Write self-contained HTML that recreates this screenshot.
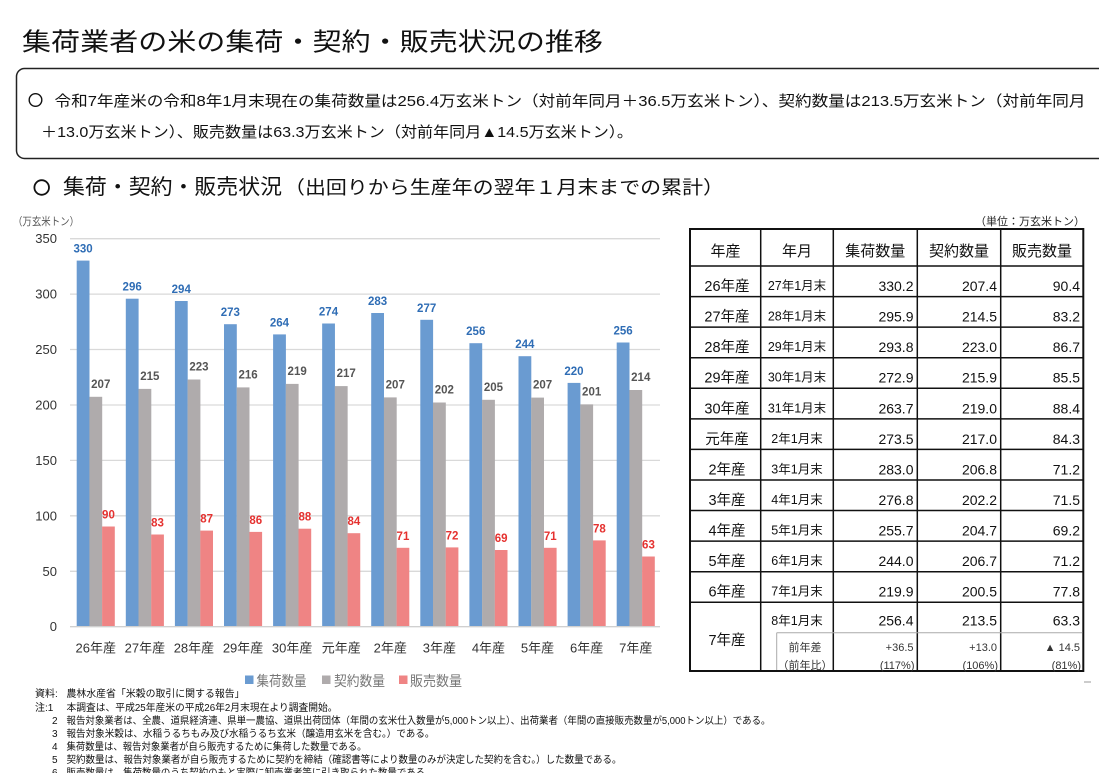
<!DOCTYPE html>
<html><head><meta charset="utf-8"><style>
html,body{margin:0;padding:0;background:#fff;}
svg{display:block;}
text{font-family:"Liberation Sans","Noto Sans CJK JP",sans-serif;}
</style></head><body>
<svg width="1099" height="773" viewBox="0 0 1099 773" xmlns="http://www.w3.org/2000/svg">
<rect width="1099" height="773" fill="#fff"/>
<!-- Title -->
<text x="22" y="50.5" font-size="25" fill="#111" textLength="581" lengthAdjust="spacingAndGlyphs">集荷業者の米の集荷・契約・販売状況の推移</text>
<!-- Summary box -->
<rect x="16.5" y="68.5" width="1100" height="90" rx="8" fill="none" stroke="#222" stroke-width="1.5"/>
<circle cx="35.5" cy="100" r="6.3" fill="none" stroke="#111" stroke-width="1.4"/>
<text x="54.5" y="106" font-size="15" fill="#111" textLength="1031" lengthAdjust="spacingAndGlyphs">令和7年産米の令和8年1月末現在の集荷数量は256.4万玄米トン（対前年同月＋36.5万玄米トン）、契約数量は213.5万玄米トン（対前年同月</text>
<text x="41" y="137" font-size="15" fill="#111" textLength="592" lengthAdjust="spacingAndGlyphs">＋13.0万玄米トン）、販売数量は63.3万玄米トン（対前年同月▲14.5万玄米トン）。</text>
<!-- Section header -->
<circle cx="41.7" cy="187.5" r="7.3" fill="none" stroke="#111" stroke-width="1.8"/>
<text x="63" y="194" font-size="21" fill="#111" textLength="219" lengthAdjust="spacingAndGlyphs">集荷・契約・販売状況</text>
<text x="284" y="194" font-size="18.5" fill="#111" textLength="440" lengthAdjust="spacingAndGlyphs">（出回りから生産年の翌年１月末までの累計）</text>
<!-- units -->
<text x="13" y="225" font-size="11" fill="#555" textLength="66" lengthAdjust="spacingAndGlyphs">（万玄米トン）</text>
<text x="975" y="225" font-size="11" fill="#222" textLength="110" lengthAdjust="spacingAndGlyphs">（単位：万玄米トン）</text>

<!-- Gridlines -->
<g stroke="#d9d9d9" stroke-width="1.3">
<line x1="70" y1="238.7" x2="660" y2="238.7"/>
<line x1="70" y1="294.1" x2="660" y2="294.1"/>
<line x1="70" y1="349.5" x2="660" y2="349.5"/>
<line x1="70" y1="405.0" x2="660" y2="405.0"/>
<line x1="70" y1="460.4" x2="660" y2="460.4"/>
<line x1="70" y1="515.8" x2="660" y2="515.8"/>
<line x1="70" y1="571.3" x2="660" y2="571.3"/>
</g>
<!-- Y labels -->
<g font-size="13" fill="#333" text-anchor="end">
<text x="57" y="243.2">350</text>
<text x="57" y="298.6">300</text>
<text x="57" y="354">250</text>
<text x="57" y="409.5">200</text>
<text x="57" y="464.9">150</text>
<text x="57" y="520.3">100</text>
<text x="57" y="575.8">50</text>
<text x="57" y="631.2">0</text>
</g>
<!-- Blue bars -->
<g fill="#6a9bd1">
<rect x="76.7" y="260.6" width="12.8" height="366.1"/>
<rect x="125.8" y="298.7" width="12.8" height="328.0"/>
<rect x="174.9" y="301.0" width="12.8" height="325.7"/>
<rect x="224.0" y="324.2" width="12.8" height="302.5"/>
<rect x="273.1" y="334.4" width="12.8" height="292.3"/>
<rect x="322.15" y="323.5" width="12.8" height="303.2"/>
<rect x="371.2" y="313.0" width="12.8" height="313.7"/>
<rect x="420.3" y="319.8" width="12.8" height="306.9"/>
<rect x="469.4" y="343.2" width="12.8" height="283.5"/>
<rect x="518.5" y="356.2" width="12.8" height="270.5"/>
<rect x="567.6" y="382.9" width="12.8" height="243.8"/>
<rect x="616.7" y="342.5" width="12.8" height="284.2"/>
</g>
<!-- Gray bars -->
<g fill="#afabac">
<rect x="89.4" y="396.8" width="12.8" height="229.9"/>
<rect x="138.5" y="388.9" width="12.8" height="237.8"/>
<rect x="187.6" y="379.5" width="12.8" height="247.2"/>
<rect x="236.7" y="387.4" width="12.8" height="239.3"/>
<rect x="285.8" y="383.9" width="12.8" height="242.8"/>
<rect x="334.85" y="386.1" width="12.8" height="240.6"/>
<rect x="383.9" y="397.4" width="12.8" height="229.3"/>
<rect x="433.0" y="402.5" width="12.8" height="224.2"/>
<rect x="482.1" y="399.8" width="12.8" height="226.9"/>
<rect x="531.2" y="397.6" width="12.8" height="229.1"/>
<rect x="580.3" y="404.4" width="12.8" height="222.3"/>
<rect x="629.4" y="390.0" width="12.8" height="236.7"/>
</g>
<!-- Red bars -->
<g fill="#ef8484">
<rect x="102.1" y="526.5" width="12.7" height="100.2"/>
<rect x="151.2" y="534.5" width="12.7" height="92.2"/>
<rect x="200.3" y="530.6" width="12.7" height="96.1"/>
<rect x="249.4" y="531.9" width="12.7" height="94.8"/>
<rect x="298.5" y="528.7" width="12.7" height="98.0"/>
<rect x="347.55" y="533.2" width="12.7" height="93.5"/>
<rect x="396.6" y="547.8" width="12.7" height="78.9"/>
<rect x="445.7" y="547.4" width="12.7" height="79.3"/>
<rect x="494.8" y="550.0" width="12.7" height="76.7"/>
<rect x="543.9" y="547.8" width="12.7" height="78.9"/>
<rect x="593.0" y="540.4" width="12.7" height="86.3"/>
<rect x="642.1" y="556.5" width="12.7" height="70.2"/>
</g>
<line x1="70" y1="626.7" x2="660" y2="626.7" stroke="#d0d0d0" stroke-width="1.3"/>
<!-- Data labels -->
<g font-size="11.5" font-weight="bold" text-anchor="middle">
<g fill="#2f6db5">
<text x="83.05" y="252.6">330</text>
<text x="132.15" y="290.7">296</text>
<text x="181.25" y="293.0">294</text>
<text x="230.35" y="316.2">273</text>
<text x="279.45" y="326.4">264</text>
<text x="328.5" y="315.5">274</text>
<text x="377.55" y="305.0">283</text>
<text x="426.65" y="311.8">277</text>
<text x="475.75" y="335.2">256</text>
<text x="524.85" y="348.2">244</text>
<text x="573.95" y="374.9">220</text>
<text x="623.05" y="334.5">256</text>
</g>
<g fill="#555">
<text x="100.75" y="387.8">207</text>
<text x="149.85" y="379.9">215</text>
<text x="198.95" y="370.5">223</text>
<text x="248.05" y="378.4">216</text>
<text x="297.15" y="374.9">219</text>
<text x="346.2" y="377.1">217</text>
<text x="395.25" y="388.4">207</text>
<text x="444.35" y="393.5">202</text>
<text x="493.45" y="390.8">205</text>
<text x="542.55" y="388.6">207</text>
<text x="591.65" y="395.4">201</text>
<text x="640.75" y="381.0">214</text>
</g>
<g fill="#e5312f">
<text x="108.45" y="518.5">90</text>
<text x="157.55" y="526.5">83</text>
<text x="206.65" y="522.6">87</text>
<text x="255.75" y="523.9">86</text>
<text x="304.85" y="520.7">88</text>
<text x="353.9" y="525.2">84</text>
<text x="402.95" y="539.8">71</text>
<text x="452.05" y="539.4">72</text>
<text x="501.15" y="542.0">69</text>
<text x="550.25" y="539.8">71</text>
<text x="599.35" y="532.4">78</text>
<text x="648.45" y="548.5">63</text>
</g>
</g>
<!-- X labels -->
<g font-size="13" fill="#333" text-anchor="middle">
<text x="95.75" y="652.5">26年産</text>
<text x="144.85" y="652.5">27年産</text>
<text x="193.95" y="652.5">28年産</text>
<text x="243.05" y="652.5">29年産</text>
<text x="292.15" y="652.5">30年産</text>
<text x="341.2" y="652.5">元年産</text>
<text x="390.25" y="652.5">2年産</text>
<text x="439.35" y="652.5">3年産</text>
<text x="488.45" y="652.5">4年産</text>
<text x="537.55" y="652.5">5年産</text>
<text x="586.65" y="652.5">6年産</text>
<text x="635.75" y="652.5">7年産</text>
</g>
<!-- Legend -->
<rect x="245" y="675.5" width="8.5" height="8.5" fill="#6a9bd1"/>
<text x="256.5" y="686" font-size="14" fill="#777" textLength="50" lengthAdjust="spacingAndGlyphs">集荷数量</text>
<rect x="322" y="675.5" width="8.5" height="8.5" fill="#afabac"/>
<text x="334" y="686" font-size="14" fill="#777" textLength="51" lengthAdjust="spacingAndGlyphs">契約数量</text>
<rect x="399" y="675.5" width="8.5" height="8.5" fill="#ef8484"/>
<text x="410" y="686" font-size="14" fill="#777" textLength="52" lengthAdjust="spacingAndGlyphs">販売数量</text>

<!-- Table -->
<g stroke="#111" fill="none">
<rect x="690" y="229" width="393.3" height="442" stroke-width="2"/>
<g stroke-width="1.5">
<line x1="760.7" y1="229" x2="760.7" y2="671"/>
<line x1="833.3" y1="229" x2="833.3" y2="671"/>
<line x1="917.3" y1="229" x2="917.3" y2="671"/>
<line x1="1000.7" y1="229" x2="1000.7" y2="671"/>
<line x1="690" y1="266" x2="1083.3" y2="266"/>
<line x1="690" y1="296.57" x2="1083.3" y2="296.57"/>
<line x1="690" y1="327.14" x2="1083.3" y2="327.14"/>
<line x1="690" y1="357.71" x2="1083.3" y2="357.71"/>
<line x1="690" y1="388.28" x2="1083.3" y2="388.28"/>
<line x1="690" y1="418.85" x2="1083.3" y2="418.85"/>
<line x1="690" y1="449.42" x2="1083.3" y2="449.42"/>
<line x1="690" y1="479.99" x2="1083.3" y2="479.99"/>
<line x1="690" y1="510.56" x2="1083.3" y2="510.56"/>
<line x1="690" y1="541.13" x2="1083.3" y2="541.13"/>
<line x1="690" y1="571.7" x2="1083.3" y2="571.7"/>
<line x1="690" y1="602.27" x2="1083.3" y2="602.27"/>
</g>
</g>
<g stroke="#aaa" stroke-width="1" fill="none">
<line x1="776.7" y1="632.7" x2="1082.5" y2="632.7"/>
<line x1="776.7" y1="632.7" x2="776.7" y2="670"/>
</g>
<!-- header text -->
<g font-size="15" fill="#111" text-anchor="middle">
<text x="725.5" y="256">年産</text>
<text x="797" y="256">年月</text>
<text x="875.3" y="256">集荷数量</text>
<text x="959" y="256">契約数量</text>
<text x="1042" y="256">販売数量</text>
</g>
<!-- col1 -->
<g font-size="14.5" fill="#111" text-anchor="middle">
<text x="727" y="291">26年産</text>
<text x="727" y="321.6">27年産</text>
<text x="727" y="352.1">28年産</text>
<text x="727" y="382.7">29年産</text>
<text x="727" y="413.3">30年産</text>
<text x="727" y="443.9">元年産</text>
<text x="727" y="474.4">2年産</text>
<text x="727" y="505">3年産</text>
<text x="727" y="535.6">4年産</text>
<text x="727" y="566.1">5年産</text>
<text x="727" y="596.7">6年産</text>
<text x="727" y="645">7年産</text>
</g>
<!-- col2 -->
<g font-size="12.5" fill="#111" text-anchor="middle">
<text x="797" y="290">27年1月末</text>
<text x="797" y="320.6">28年1月末</text>
<text x="797" y="351.1">29年1月末</text>
<text x="797" y="381.7">30年1月末</text>
<text x="797" y="412.3">31年1月末</text>
<text x="797" y="442.9">2年1月末</text>
<text x="797" y="473.4">3年1月末</text>
<text x="797" y="504">4年1月末</text>
<text x="797" y="534.6">5年1月末</text>
<text x="797" y="565.1">6年1月末</text>
<text x="797" y="595.7">7年1月末</text>
<text x="797" y="625">8年1月末</text>
</g>
<!-- numbers -->
<g font-size="14" fill="#111" text-anchor="end">
<text x="913.5" y="291">330.2</text><text x="997" y="291">207.4</text><text x="1080" y="291">90.4</text>
<text x="913.5" y="321.6">295.9</text><text x="997" y="321.6">214.5</text><text x="1080" y="321.6">83.2</text>
<text x="913.5" y="352.1">293.8</text><text x="997" y="352.1">223.0</text><text x="1080" y="352.1">86.7</text>
<text x="913.5" y="382.7">272.9</text><text x="997" y="382.7">215.9</text><text x="1080" y="382.7">85.5</text>
<text x="913.5" y="413.3">263.7</text><text x="997" y="413.3">219.0</text><text x="1080" y="413.3">88.4</text>
<text x="913.5" y="443.9">273.5</text><text x="997" y="443.9">217.0</text><text x="1080" y="443.9">84.3</text>
<text x="913.5" y="474.4">283.0</text><text x="997" y="474.4">206.8</text><text x="1080" y="474.4">71.2</text>
<text x="913.5" y="505">276.8</text><text x="997" y="505">202.2</text><text x="1080" y="505">71.5</text>
<text x="913.5" y="535.6">255.7</text><text x="997" y="535.6">204.7</text><text x="1080" y="535.6">69.2</text>
<text x="913.5" y="566.1">244.0</text><text x="997" y="566.1">206.7</text><text x="1080" y="566.1">71.2</text>
<text x="913.5" y="596.7">219.9</text><text x="997" y="596.7">200.5</text><text x="1080" y="596.7">77.8</text>
<text x="913.5" y="625.5">256.4</text><text x="997" y="625.5">213.5</text><text x="1080" y="625.5">63.3</text>
</g>
<!-- sub row -->
<g font-size="11" fill="#333">
<text x="805" y="651" text-anchor="middle">前年差</text>
<text x="805" y="669" text-anchor="middle">（前年比）</text>
<g text-anchor="end">
<text x="913.5" y="651">+36.5</text><text x="997" y="651">+13.0</text><text x="1080" y="651">▲ 14.5</text>
<text x="914.5" y="669">(117%)</text><text x="998" y="669">(106%)</text><text x="1081" y="669">(81%)</text>
</g>
</g>
<line x1="1084" y1="682" x2="1091" y2="682" stroke="#999" stroke-width="1"/>

<!-- Footnotes -->
<g font-size="10" fill="#111">
<text x="35" y="697">資料:</text>
<text x="66.5" y="697" textLength="178" lengthAdjust="spacingAndGlyphs">農林水産省「米穀の取引に関する報告」</text>
<text x="35" y="711">注:1</text>
<text x="66.5" y="711" textLength="271" lengthAdjust="spacingAndGlyphs">本調査は、平成25年産米の平成26年2月末現在より調査開始。</text>
<text x="52" y="724">2</text>
<text x="66.5" y="724" textLength="704" lengthAdjust="spacingAndGlyphs">報告対象業者は、全農、道県経済連、県単一農協、道県出荷団体（年間の玄米仕入数量が5,000トン以上）、出荷業者（年間の直接販売数量が5,000トン以上）である。</text>
<text x="52" y="737">3</text>
<text x="66.5" y="737" textLength="368" lengthAdjust="spacingAndGlyphs">報告対象米穀は、水稲うるちもみ及び水稲うるち玄米（醸造用玄米を含む。）である。</text>
<text x="52" y="750">4</text>
<text x="66.5" y="750" textLength="300" lengthAdjust="spacingAndGlyphs">集荷数量は、報告対象業者が自ら販売するために集荷した数量である。</text>
<text x="52" y="763">5</text>
<text x="66.5" y="763" textLength="555" lengthAdjust="spacingAndGlyphs">契約数量は、報告対象業者が自ら販売するために契約を締結（確認書等により数量のみが決定した契約を含む。）した数量である。</text>
<text x="52" y="776">6</text>
<text x="66.5" y="776" textLength="368" lengthAdjust="spacingAndGlyphs">販売数量は、集荷数量のうち契約のもと実際に卸売業者等に引き取られた数量である。</text>
</g>
</svg>
</body></html>
